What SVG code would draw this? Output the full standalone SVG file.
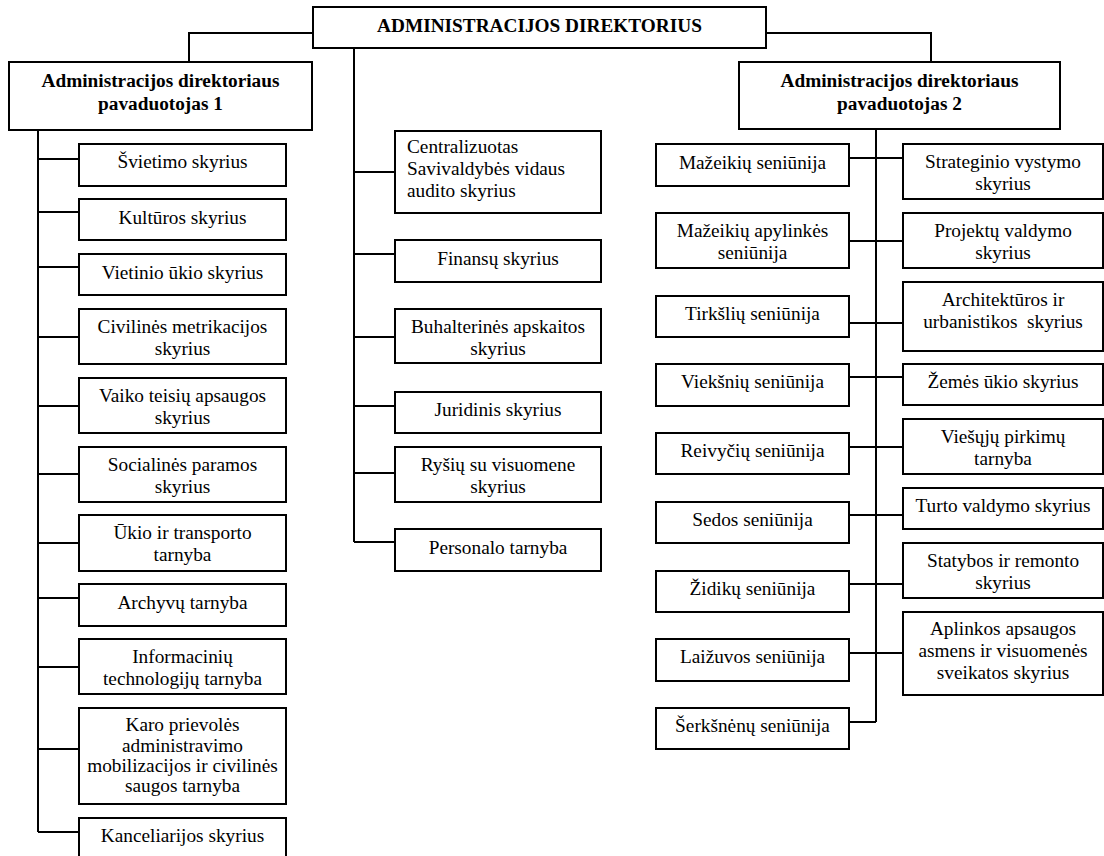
<svg xmlns="http://www.w3.org/2000/svg" width="1104" height="856" viewBox="0 0 1104 856">
<style>
.box{fill:#fff;stroke:#000;stroke-width:2}
.c{fill:none;stroke:#000;stroke-width:2}
text{font-family:"Liberation Serif","Times New Roman",serif;font-size:19.3px;fill:#000;text-anchor:middle}
.b{font-weight:bold}
.l{text-anchor:start}
</style>
<rect width="1104" height="856" fill="#fff"/>
<g id="connectors">
<path class="c" d="M313 33H189V62M766 33H931V62"/>
<path class="c" d="M354 48V542M354 172H395M354 254H395M354 337H395M354 406H395M354 473H395M354 542H395"/>
<path class="c" d="M38 130V832M38 159H79M38 212H79M38 267H79M38 337H79M38 406H79M38 474H79M38 543H79M38 598H79M38 667H79M38 749H79M38 832H79"/>
<path class="c" d="M876 129V722M849 158H903M849 241H903M849 323H903M849 377H903M849 447H903M849 515H903M849 584H903M849 653H903M849 722H876"/>
</g>
<g id="n-top"><rect class="box" x="313" y="7" width="453" height="41"/><text class="b" x="539.5" y="32">ADMINISTRACIJOS DIREKTORIUS</text></g>
<g id="n-dep1"><rect class="box" x="9" y="62" width="303" height="68"/><text class="b" x="160.5" y="87">Administracijos direktoriaus</text><text class="b" x="160.5" y="110">pavaduotojas 1</text></g>
<g id="n-dep2"><rect class="box" x="739" y="62" width="321" height="67"/><text class="b" x="899.5" y="87">Administracijos direktoriaus</text><text class="b" x="899.5" y="110">pavaduotojas 2</text></g>

<g id="n-svietimo"><rect class="box" x="79" y="144" width="207" height="42"/><text x="182.5" y="168">Švietimo skyrius</text></g>
<g id="n-kulturos"><rect class="box" x="79" y="199" width="207" height="41"/><text x="182.5" y="224">Kultūros skyrius</text></g>
<g id="n-vietinio"><rect class="box" x="79" y="254" width="207" height="41"/><text x="182.5" y="279">Vietinio ūkio skyrius</text></g>
<g id="n-civilines"><rect class="box" x="79" y="309" width="207" height="55"/><text x="182.5" y="333">Civilinės metrikacijos</text><text x="182.5" y="355">skyrius</text></g>
<g id="n-vaiko"><rect class="box" x="79" y="378" width="207" height="55"/><text x="182.5" y="402">Vaiko teisių apsaugos</text><text x="182.5" y="424">skyrius</text></g>
<g id="n-socialines"><rect class="box" x="79" y="447" width="207" height="55"/><text x="182.5" y="471">Socialinės paramos</text><text x="182.5" y="493">skyrius</text></g>
<g id="n-ukio"><rect class="box" x="79" y="515" width="207" height="56"/><text x="182.5" y="539">Ūkio ir transporto</text><text x="182.5" y="561">tarnyba</text></g>
<g id="n-archyvu"><rect class="box" x="79" y="584" width="207" height="42"/><text x="182.5" y="609">Archyvų tarnyba</text></g>
<g id="n-it"><rect class="box" x="79" y="639" width="207" height="55"/><text x="182.5" y="663">Informacinių</text><text x="182.5" y="685">technologijų tarnyba</text></g>
<g id="n-karo"><rect class="box" x="79" y="708" width="207" height="96"/><text x="182.5" y="731">Karo prievolės</text><text x="182.5" y="752">administravimo</text><text x="182.5" y="772">mobilizacijos ir civilinės</text><text x="182.5" y="792">saugos tarnyba</text></g>
<g id="n-kanceliarijos"><rect class="box" x="79" y="818" width="207" height="46"/><text x="182.5" y="842">Kanceliarijos skyrius</text></g>

<g id="n-audito"><rect class="box" x="395" y="131" width="206" height="82"/><text class="l" x="407" y="153">Centralizuotas</text><text class="l" x="407" y="175">Savivaldybės vidaus</text><text class="l" x="407" y="197">audito skyrius</text></g>
<g id="n-finansu"><rect class="box" x="395" y="240" width="206" height="42"/><text x="498" y="265">Finansų skyrius</text></g>
<g id="n-buhalterines"><rect class="box" x="395" y="309" width="206" height="54"/><text x="498" y="333">Buhalterinės apskaitos</text><text x="498" y="355">skyrius</text></g>
<g id="n-juridinis"><rect class="box" x="395" y="392" width="206" height="41"/><text x="498" y="416">Juridinis skyrius</text></g>
<g id="n-rysiu"><rect class="box" x="395" y="447" width="206" height="55"/><text x="498" y="471">Ryšių su visuomene</text><text x="498" y="493">skyrius</text></g>
<g id="n-personalo"><rect class="box" x="395" y="529" width="206" height="42"/><text x="498" y="554">Personalo tarnyba</text></g>

<g id="n-mazeikiu"><rect class="box" x="656" y="144" width="193" height="42"/><text x="752.5" y="169">Mažeikių seniūnija</text></g>
<g id="n-mazeikiu-apyl"><rect class="box" x="656" y="213" width="193" height="55"/><text x="752.5" y="237">Mažeikių apylinkės</text><text x="752.5" y="259">seniūnija</text></g>
<g id="n-tirksliu"><rect class="box" x="656" y="296" width="193" height="41"/><text x="752.5" y="320">Tirkšlių seniūnija</text></g>
<g id="n-vieksniu"><rect class="box" x="656" y="364" width="193" height="42"/><text x="752.5" y="388">Viekšnių seniūnija</text></g>
<g id="n-reivyciu"><rect class="box" x="656" y="433" width="193" height="41"/><text x="752.5" y="457">Reivyčių seniūnija</text></g>
<g id="n-sedos"><rect class="box" x="656" y="502" width="193" height="41"/><text x="752.5" y="526">Sedos seniūnija</text></g>
<g id="n-zidiku"><rect class="box" x="656" y="571" width="193" height="41"/><text x="752.5" y="595">Židikų seniūnija</text></g>
<g id="n-laizuvos"><rect class="box" x="656" y="639" width="193" height="42"/><text x="752.5" y="663">Laižuvos seniūnija</text></g>
<g id="n-serksnenu"><rect class="box" x="656" y="708" width="193" height="41"/><text x="752.5" y="732">Šerkšnėnų seniūnija</text></g>

<g id="n-strateginio"><rect class="box" x="903" y="144" width="200" height="55"/><text x="1003" y="168">Strateginio vystymo</text><text x="1003" y="190">skyrius</text></g>
<g id="n-projektu"><rect class="box" x="903" y="213" width="200" height="55"/><text x="1003" y="237">Projektų valdymo</text><text x="1003" y="259">skyrius</text></g>
<g id="n-architekturos"><rect class="box" x="903" y="282" width="200" height="69"/><text x="1003" y="306">Architektūros ir</text><text x="1003" y="328" xml:space="preserve">urbanistikos  skyrius</text></g>
<g id="n-zemes"><rect class="box" x="903" y="364" width="200" height="41"/><text x="1003" y="388">Žemės ūkio skyrius</text></g>
<g id="n-viesuju"><rect class="box" x="903" y="419" width="200" height="55"/><text x="1003" y="443">Viešųjų pirkimų</text><text x="1003" y="465">tarnyba</text></g>
<g id="n-turto"><rect class="box" x="903" y="488" width="200" height="41"/><text x="1003" y="512">Turto valdymo skyrius</text></g>
<g id="n-statybos"><rect class="box" x="903" y="543" width="200" height="55"/><text x="1003" y="567">Statybos ir remonto</text><text x="1003" y="589">skyrius</text></g>
<g id="n-aplinkos"><rect class="box" x="903" y="612" width="200" height="83"/><text x="1003" y="635">Aplinkos apsaugos</text><text x="1003" y="657">asmens ir visuomenės</text><text x="1003" y="679">sveikatos skyrius</text></g>
</svg>
